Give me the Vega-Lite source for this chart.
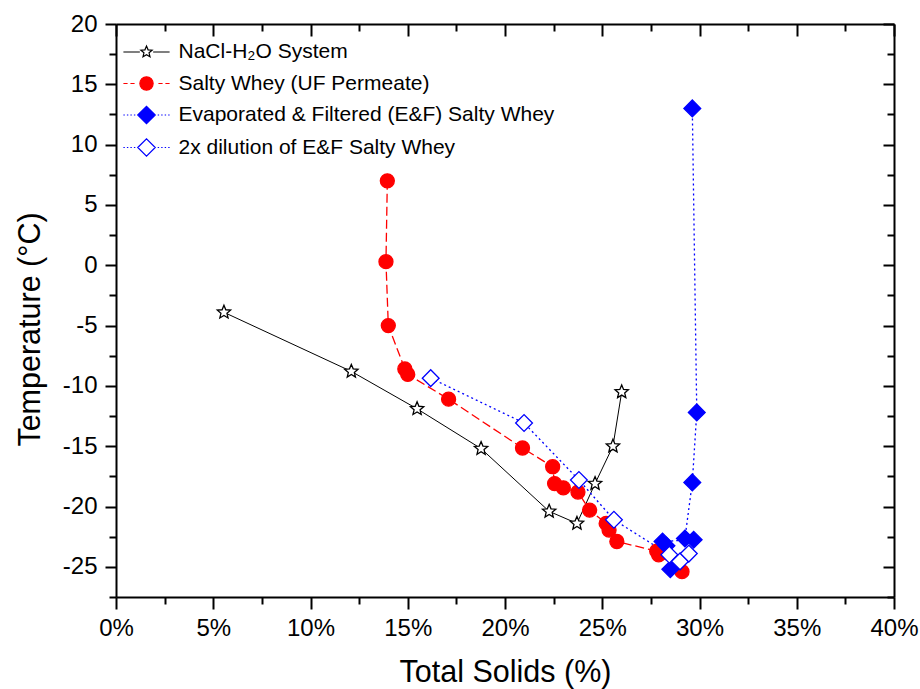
{
  "$schema": "https://vega.github.io/schema/vega-lite/v6.json",
  "width": 778,
  "height": 573,
  "autosize": {"type": "none"},
  "padding": {"left": 116, "top": 24, "right": 26, "bottom": 92},
  "background": "white",
  "config": {
    "view": {"stroke": null},
    "font": "Liberation Sans",
    "axis": {
      "domainColor": "black", "domainWidth": 2, "tickColor": "black", "tickWidth": 2,
      "labelFont": "Liberation Sans", "labelFontSize": 24, "labelColor": "black", "labelFlush": false, "labelOverlap": false,
      "titleFont": "Liberation Sans", "titleFontSize": 30.5, "titleColor": "black", "titleFontWeight": "normal",
      "grid": false
    }
  },
  "data": {"values": [
    {"k": "nacl", "series": "NaCl-H₂O System", "i": 1, "ts": 5.55, "temp": -3.9},
    {"k": "nacl", "series": "NaCl-H₂O System", "i": 2, "ts": 12.1, "temp": -8.8},
    {"k": "nacl", "series": "NaCl-H₂O System", "i": 3, "ts": 15.48, "temp": -11.9},
    {"k": "nacl", "series": "NaCl-H₂O System", "i": 4, "ts": 18.77, "temp": -15.2},
    {"k": "nacl", "series": "NaCl-H₂O System", "i": 5, "ts": 22.27, "temp": -20.4},
    {"k": "nacl", "series": "NaCl-H₂O System", "i": 6, "ts": 23.7, "temp": -21.4},
    {"k": "nacl", "series": "NaCl-H₂O System", "i": 7, "ts": 24.63, "temp": -18.1},
    {"k": "nacl", "series": "NaCl-H₂O System", "i": 8, "ts": 25.55, "temp": -15.0},
    {"k": "nacl", "series": "NaCl-H₂O System", "i": 9, "ts": 26.0, "temp": -10.5},
    {"k": "uf", "series": "Salty Whey (UF Permeate)", "i": 1, "ts": 13.95, "temp": 7.0},
    {"k": "uf", "series": "Salty Whey (UF Permeate)", "i": 2, "ts": 13.88, "temp": 0.3},
    {"k": "uf", "series": "Salty Whey (UF Permeate)", "i": 3, "ts": 14.0, "temp": -5.0},
    {"k": "uf", "series": "Salty Whey (UF Permeate)", "i": 4, "ts": 14.85, "temp": -8.6},
    {"k": "uf", "series": "Salty Whey (UF Permeate)", "i": 5, "ts": 15.0, "temp": -9.05},
    {"k": "uf", "series": "Salty Whey (UF Permeate)", "i": 6, "ts": 17.1, "temp": -11.1},
    {"k": "uf", "series": "Salty Whey (UF Permeate)", "i": 7, "ts": 20.9, "temp": -15.15},
    {"k": "uf", "series": "Salty Whey (UF Permeate)", "i": 8, "ts": 22.45, "temp": -16.7},
    {"k": "uf", "series": "Salty Whey (UF Permeate)", "i": 9, "ts": 22.55, "temp": -18.1},
    {"k": "uf", "series": "Salty Whey (UF Permeate)", "i": 10, "ts": 23.0, "temp": -18.45},
    {"k": "uf", "series": "Salty Whey (UF Permeate)", "i": 11, "ts": 23.75, "temp": -18.8},
    {"k": "uf", "series": "Salty Whey (UF Permeate)", "i": 12, "ts": 24.35, "temp": -20.3},
    {"k": "uf", "series": "Salty Whey (UF Permeate)", "i": 13, "ts": 25.2, "temp": -21.4},
    {"k": "uf", "series": "Salty Whey (UF Permeate)", "i": 14, "ts": 25.35, "temp": -21.95},
    {"k": "uf", "series": "Salty Whey (UF Permeate)", "i": 15, "ts": 25.75, "temp": -22.9},
    {"k": "uf", "series": "Salty Whey (UF Permeate)", "i": 16, "ts": 27.8, "temp": -23.7},
    {"k": "uf", "series": "Salty Whey (UF Permeate)", "i": 17, "ts": 27.9, "temp": -24.0},
    {"k": "uf", "series": "Salty Whey (UF Permeate)", "i": 18, "ts": 29.1, "temp": -25.4},
    {"k": "ef", "series": "Evaporated & Filtered (E&F) Salty Whey", "i": 1, "ts": 29.63, "temp": 13.0},
    {"k": "ef", "series": "Evaporated & Filtered (E&F) Salty Whey", "i": 2, "ts": 29.86, "temp": -12.2},
    {"k": "ef", "series": "Evaporated & Filtered (E&F) Salty Whey", "i": 3, "ts": 29.63, "temp": -18.0},
    {"k": "ef", "series": "Evaporated & Filtered (E&F) Salty Whey", "i": 4, "ts": 29.25, "temp": -22.65},
    {"k": "ef", "series": "Evaporated & Filtered (E&F) Salty Whey", "i": 5, "ts": 29.7, "temp": -22.75},
    {"k": "ef", "series": "Evaporated & Filtered (E&F) Salty Whey", "i": 6, "ts": 28.1, "temp": -22.9},
    {"k": "ef", "series": "Evaporated & Filtered (E&F) Salty Whey", "i": 7, "ts": 28.3, "temp": -23.25},
    {"k": "ef", "series": "Evaporated & Filtered (E&F) Salty Whey", "i": 8, "ts": 28.5, "temp": -25.2},
    {"k": "dil", "series": "2x dilution of E&F Salty Whey", "i": 1, "ts": 16.18, "temp": -9.36},
    {"k": "dil", "series": "2x dilution of E&F Salty Whey", "i": 2, "ts": 20.98, "temp": -13.08},
    {"k": "dil", "series": "2x dilution of E&F Salty Whey", "i": 3, "ts": 23.8, "temp": -17.8},
    {"k": "dil", "series": "2x dilution of E&F Salty Whey", "i": 4, "ts": 25.6, "temp": -21.1},
    {"k": "dil", "series": "2x dilution of E&F Salty Whey", "i": 5, "ts": 28.45, "temp": -24.0},
    {"k": "dil", "series": "2x dilution of E&F Salty Whey", "i": 6, "ts": 29.0, "temp": -24.55},
    {"k": "dil", "series": "2x dilution of E&F Salty Whey", "i": 7, "ts": 29.45, "temp": -23.9}
  ]},
  "layer": [
    {
      "transform": [{"filter": "datum.k === 'nacl'"}],
      "mark": {"type": "line", "color": "black", "strokeWidth": 1},
      "encoding": {
        "x": {"field": "ts", "type": "quantitative", "scale": {"domain": [0, 40], "nice": false, "zero": false},
          "axis": {"orient": "bottom", "values": [0, 5, 10, 15, 20, 25, 30, 35, 40], "labelExpr": "datum.value + '%'", "tickSize": 12, "labelPadding": 7, "title": "Total Solids (%)", "titleY": 60, "titleBaseline": "top"}},
        "y": {"field": "temp", "type": "quantitative", "scale": {"domain": [-27.5, 20], "nice": false, "zero": false},
          "axis": {"orient": "left", "values": [-25, -20, -15, -10, -5, 0, 5, 10, 15, 20], "labelExpr": "'' + datum.value", "tickSize": 11, "labelPadding": 8, "title": "Temperature (°C)", "titleX": -86, "titleY": 305, "titleAngle": -90, "titleAlign": "center", "titleBaseline": "middle"}},
        "order": {"field": "i", "type": "quantitative"}
      }
    },
    {
      "transform": [{"filter": "datum.k === 'uf'"}],
      "mark": {"type": "line", "color": "#ff0000", "strokeWidth": 1.3, "strokeDash": [9, 4]},
      "encoding": {
        "x": {"field": "ts", "type": "quantitative",
          "axis": {"orient": "bottom", "values": [2.5, 7.5, 12.5, 17.5, 22.5, 27.5, 32.5, 37.5], "tickSize": 7, "labels": false, "domain": false, "title": null}},
        "y": {"field": "temp", "type": "quantitative",
          "axis": {"orient": "left", "values": [-27.5, -22.5, -17.5, -12.5, -7.5, -2.5, 2.5, 7.5, 12.5, 17.5], "tickSize": 7, "labels": false, "domain": false, "title": null}},
        "order": {"field": "i", "type": "quantitative"}
      }
    },
    {
      "transform": [{"filter": "datum.k === 'ef'"}],
      "mark": {"type": "line", "color": "#0000ff", "strokeWidth": 1.3, "strokeDash": [2, 3]},
      "encoding": {
        "x": {"field": "ts", "type": "quantitative",
          "axis": {"orient": "top", "values": [0, 5, 10, 15, 20, 25, 30, 35, 40], "tickSize": -12, "labels": false, "title": null}},
        "y": {"field": "temp", "type": "quantitative",
          "axis": {"orient": "right", "values": [-25, -20, -15, -10, -5, 0, 5, 10, 15, 20], "tickSize": -11, "labels": false, "title": null}},
        "order": {"field": "i", "type": "quantitative"}
      }
    },
    {
      "transform": [{"filter": "datum.k === 'dil'"}],
      "mark": {"type": "line", "color": "#0000ff", "strokeWidth": 1.3, "strokeDash": [2, 3]},
      "encoding": {
        "x": {"field": "ts", "type": "quantitative",
          "axis": {"orient": "top", "values": [2.5, 7.5, 12.5, 17.5, 22.5, 27.5, 32.5, 37.5], "tickSize": -7, "labels": false, "domain": false, "title": null}},
        "y": {"field": "temp", "type": "quantitative",
          "axis": {"orient": "right", "values": [-27.5, -22.5, -17.5, -12.5, -7.5, -2.5, 2.5, 7.5, 12.5, 17.5], "tickSize": -7, "labels": false, "domain": false, "title": null}},
        "order": {"field": "i", "type": "quantitative"}
      }
    },
    {
      "mark": {"type": "point", "filled": true, "size": 196, "strokeWidth": 1.3, "opacity": 1},
      "encoding": {
        "x": {"field": "ts", "type": "quantitative", "axis": null},
        "y": {"field": "temp", "type": "quantitative", "axis": null},
        "shape": {"field": "series", "type": "nominal", "legend": null,
          "scale": {"domain": ["NaCl-H₂O System", "Salty Whey (UF Permeate)", "Evaporated & Filtered (E&F) Salty Whey", "2x dilution of E&F Salty Whey"],
            "range": ["M0,-1L0.265,-0.364L0.951,-0.309L0.428,0.139L0.588,0.809L0,0.45L-0.588,0.809L-0.428,0.139L-0.951,-0.309L-0.265,-0.364Z", "circle", "M-1.2,0L0,-1.2L1.2,0L0,1.2Z", "M-1.2,0L0,-1.2L1.2,0L0,1.2Z"]}},
        "fill": {"field": "series", "type": "nominal", "legend": null,
          "scale": {"domain": ["NaCl-H₂O System", "Salty Whey (UF Permeate)", "Evaporated & Filtered (E&F) Salty Whey", "2x dilution of E&F Salty Whey"], "range": ["white", "#ff0000", "#0000ff", "white"]}},
        "stroke": {"field": "series", "type": "nominal", "legend": null,
          "scale": {"domain": ["NaCl-H₂O System", "Salty Whey (UF Permeate)", "Evaporated & Filtered (E&F) Salty Whey", "2x dilution of E&F Salty Whey"], "range": ["black", "#ff0000", "#0000ff", "#0000ff"]}}
      }
    },
    {
      "transform": [{"filter": "false"}],
      "mark": {"type": "point", "filled": true, "size": 196, "strokeWidth": 1.2, "opacity": 1},
      "encoding": {
        "x": {"field": "ts", "type": "quantitative", "axis": null},
        "y": {"field": "temp", "type": "quantitative", "axis": null},
        "shape": {"field": "series", "type": "nominal",
          "scale": {"domain": ["NaCl-H₂O System", "Salty Whey (UF Permeate)", "Evaporated & Filtered (E&F) Salty Whey", "2x dilution of E&F Salty Whey"],
            "range": [
              "M-3.3,0H-0.95M0.95,0H3.3M0,-0.85L0.225,-0.309L0.808,-0.263L0.364,0.118L0.5,0.688L0,0.383L-0.5,0.688L-0.364,0.118L-0.808,-0.263L-0.225,-0.309Z",
              "M-3.3,0H-2.7M-2.3,0H-1.7M1.7,0H2.3M2.7,0H3.3M0.95,0L0.878,0.364L0.672,0.672L0.364,0.878L0,0.95L-0.364,0.878L-0.672,0.672L-0.878,0.364L-0.95,0L-0.878,-0.364L-0.672,-0.672L-0.364,-0.878L0,-0.95L0.364,-0.878L0.672,-0.672L0.878,-0.364Z",
              "M-3.3,0H-3.1M-2.8,0H-2.6M-2.3,0H-2.1M-1.8,0H-1.6M1.6,0H1.8M2.1,0H2.3M2.6,0H2.8M3.1,0H3.3M-1.25,0L0,-1.25L1.25,0L0,1.25Z",
              "M-3.3,0H-3.1M-2.8,0H-2.6M-2.3,0H-2.1M-1.8,0H-1.6M1.6,0H1.8M2.1,0H2.3M2.6,0H2.8M3.1,0H3.3M-1.25,0L0,-1.25L1.25,0L0,1.25Z"]},
          "legend": {
            "orient": "none", "legendX": 7.5, "legendY": 17.5, "title": null, "padding": 0,
            "labelFont": "Liberation Sans", "labelFontSize": 21, "labelColor": "black", "labelLimit": 700,
            "symbolSize": 196, "symbolStrokeWidth": 1.2, "symbolOffset": 12.5, "labelOffset": 21.5, "rowPadding": 9.5
          }},
        "fill": {"field": "series", "type": "nominal",
          "scale": {"domain": ["NaCl-H₂O System", "Salty Whey (UF Permeate)", "Evaporated & Filtered (E&F) Salty Whey", "2x dilution of E&F Salty Whey"], "range": ["white", "#ff0000", "#0000ff", "white"]}},
        "stroke": {"field": "series", "type": "nominal",
          "scale": {"domain": ["NaCl-H₂O System", "Salty Whey (UF Permeate)", "Evaporated & Filtered (E&F) Salty Whey", "2x dilution of E&F Salty Whey"], "range": ["black", "#ff0000", "#0000ff", "#0000ff"]}}
      }
    }
  ],
  "resolve": {
    "axis": {"x": "independent", "y": "independent"},
    "scale": {"shape": "independent", "fill": "independent", "stroke": "independent"}
  }
}
